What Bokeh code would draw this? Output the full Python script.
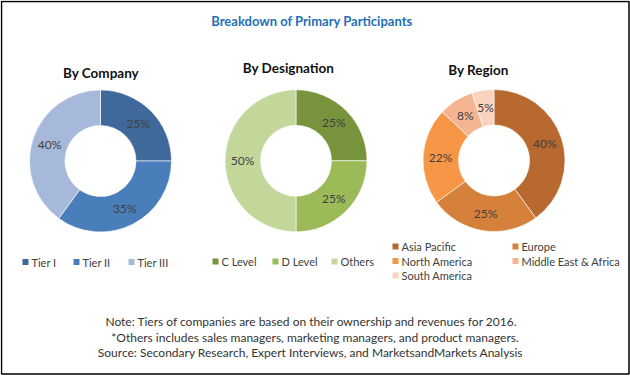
import math
from bokeh.plotting import figure
from bokeh.models import Range1d, ColumnDataSource
from bokeh.core.properties import value
from bokeh.embed import file_html
from bokeh.resources import INLINE

# ---------------- data ----------------
title = "Breakdown of Primary Participants"

company_title = "By Company"
company_labels = ["Tier I", "Tier II", "Tier III"]
company_values = [25, 35, 40]
company_colors = ["#3F689B", "#4A7EBB", "#A7B9DB"]

designation_title = "By Designation"
designation_labels = ["C Level", "D Level", "Others"]
designation_values = [25, 25, 50]
designation_colors = ["#77933C", "#9BBB59", "#C4D79B"]

region_title = "By Region"
region_labels = ["Asia Pacific", "Europe", "North America", "Middle East & Africa", "South America"]
region_values = [40, 25, 22, 8, 5]
region_colors = ["#B7692F", "#D5813B", "#F79646", "#F6B592", "#FAD2BD"]

notes = [
    "Note: Tiers of companies are based on their ownership and revenues for 2016.",
    "*Others includes sales managers, marketing managers, and product managers.",
    "Source: Secondary Research, Expert Interviews, and MarketsandMarkets Analysis",
]

# ---------------- layout (reference pixel coords, y downward) ----------------
W, H = 630, 381
FONT = "Lato"


def Y(y):
    return H - y


p = figure(width=W, height=H, output_backend="svg", toolbar_location=None,
           x_range=Range1d(0, W), y_range=Range1d(0, H),
           x_axis_location=None, y_axis_location=None, min_border=0,
           outline_line_color=None,
           background_fill_color="white", border_fill_color="white")
p.grid.visible = False

# outer frame of the graphic
p.quad(left=[1], right=[628.5], top=[Y(1)], bottom=[Y(373.5)], fill_color=None,
       line_color="black", line_width=1.5)

OUTER, INNER = 71, 35.5
LABEL_R = 53.5


def donut(cx, cy, labels, values, colors):
    total = float(sum(values))
    starts, ends, lx, ly, txt = [], [], [], [], []
    cum = 0.0
    for v in values:
        a0 = math.pi / 2 - 2 * math.pi * cum / total
        a1 = math.pi / 2 - 2 * math.pi * (cum + v) / total
        am = math.pi / 2 - 2 * math.pi * (cum + v / 2) / total
        starts.append(a0)
        ends.append(a1)
        lx.append(cx + LABEL_R * math.cos(am))
        ly.append(Y(cy) + LABEL_R * math.sin(am))
        txt.append(f"{v}%")
        cum += v
    src = ColumnDataSource(dict(start=starts, end=ends, color=colors, label=labels))
    p.annular_wedge(x=cx, y=Y(cy), inner_radius=INNER, outer_radius=OUTER,
                    start_angle="start", end_angle="end", direction="clock",
                    fill_color="color", line_color="white", line_width=0.6, source=src)
    p.text(x=lx, y=ly, text=txt, text_align="center", text_baseline="middle",
           text_font=value(FONT), text_font_size="12px", text_color="#404040")


def legend(items, colors, xs, ys):
    sx = [x - 6 for x in xs]
    p.rect(x=sx, y=[Y(y) for y in ys], width=6, height=6, fill_color=colors, line_color=None)
    p.text(x=xs, y=[Y(y) for y in ys], text=items, text_align="left", text_baseline="middle",
           text_font=value(FONT), text_font_size="11px", text_color="#404040")


# title
p.text(x=[311.5], y=[Y(20)], text=[title], text_align="center", text_baseline="middle",
       text_font=value(FONT), text_font_size="13px", text_font_style="bold", text_color="#1F6FB7")

# section titles
p.text(x=[100.5, 288, 478], y=[Y(72.5), Y(67.5), Y(69)],
       text=[company_title, designation_title, region_title],
       text_align="center", text_baseline="middle",
       text_font=value(FONT), text_font_size="13.5px", text_font_style="bold", text_color="#111111")

donut(100, 160.5, company_labels, company_values, company_colors)
donut(295.5, 160.3, designation_labels, designation_values, designation_colors)
donut(493.5, 160, region_labels, region_values, region_colors)

legend(company_labels, company_colors, [31, 82, 137], [261.5] * 3)
legend(designation_labels, designation_colors, [221, 281, 340], [261] * 3)
legend(region_labels, region_colors, [401, 521, 401, 521, 401], [246, 246, 260.5, 260.5, 275])

# notes
p.text(x=[311, 314.5, 310], y=[Y(320.5), Y(337), Y(352)], text=notes,
       text_align="center", text_baseline="middle",
       text_font=value(FONT), text_font_size="12px", text_color="#333333")

open("out.html", "w").write(file_html(p, INLINE))
